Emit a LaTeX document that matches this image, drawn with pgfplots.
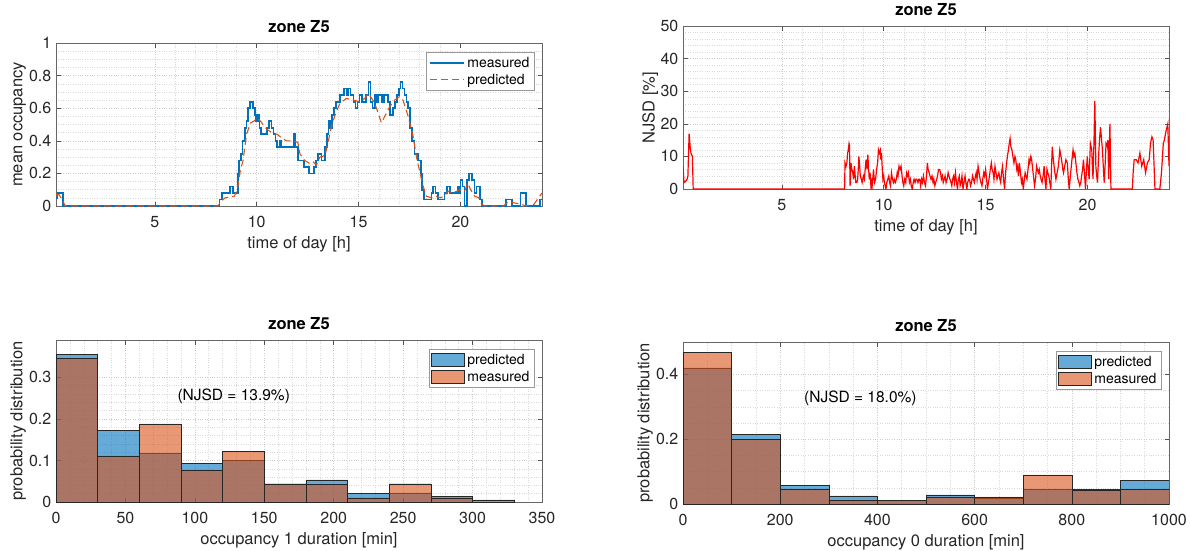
\documentclass[border=0pt]{standalone}
\usepackage{fontspec}
\setmainfont{TeX Gyre Heros}
\usepackage{pgfplots}
\pgfplotsset{compat=1.18}

\definecolor{mblue}{RGB}{0,114,189}
\definecolor{morange}{RGB}{217,83,25}
\definecolor{axgray}{RGB}{38,38,38}
\definecolor{gridmajor}{RGB}{204,204,204}
\definecolor{gridminor}{RGB}{218,218,218}

\pgfplotsset{
  matlab/.style={
    scale only axis,
    axis line style={axgray!70, line width=0.6pt},
    tick style={axgray!80, line width=0.5pt},
    tick align=inside,
    major tick length=4.5pt,
    minor tick length=0pt,
    grid=both,
    major grid style={gridmajor, dotted, line width=0.5pt},
    minor grid style={gridminor, dotted, line width=0.5pt},
    tick label style={font=\fontsize{16}{18}\selectfont, text=axgray},
    /pgf/number format/assume math mode=true,
    /pgf/number format/1000 sep={},
    label style={font=\fontsize{16.5}{19}\selectfont, text=axgray},
    title style={font=\bfseries\fontsize{16.5}{19}\selectfont, text=black,
      at={(axis description cs:0.5,1.03)}, anchor=base},
    xlabel style={at={(axis description cs:0.5,-0.26)}, anchor=base},
    ylabel style={anchor=base},
    xticklabel style={anchor=base, yshift=-21pt},
    yticklabel style={anchor=east, inner sep=0pt, xshift=-4.5pt},
    legend style={at={(axis description cs:0.985,0.945)}, anchor=north east,
      draw=gray!80, fill=white, line width=0.5pt,
      font=\fontsize{14}{16.5}\selectfont, text=black,
      inner xsep=2.5pt, inner ysep=2.5pt, row sep=0pt,
      nodes={inner sep=2.5pt}},
    legend cell align=left,
  },
  histbar/.style={ybar interval, fill=#1, fill opacity=0.6,
    draw=black!85, line width=0.45pt,
    legend image code/.code={\draw[fill=#1, fill opacity=0.6, draw=black!85, line width=0.45pt] (0pt,-6.5pt) rectangle (33pt,6.5pt);}},
}

\begin{document}
\begin{tikzpicture}
\useasboundingbox (0pt,0pt) rectangle (1190pt,550pt);

% ---------------- mean occupancy over the day ----------------
\begin{axis}[matlab, at={(56pt,344pt)}, anchor=south west,
  width=486pt, height=163pt,
  xmin=0.15, xmax=24, ymin=0, ymax=1,
  xtick={5,10,15,20}, ytick={0,0.2,0.4,0.6,0.8,1},
  minor x tick num=4, minor y tick num=3,
  title={zone Z5}, xlabel={time of day [h]}, ylabel={mean occupancy},
  ylabel style={at={(axis description cs:-0.069,0.5)}},
]
\addplot[const plot, color=mblue, line width=1.7pt,
  legend image code/.code={\draw[mblue, line width=1.7pt] (0pt,0pt) -- (34pt,0pt);}] coordinates {
(0.15,0.05) (0.22,0.08) (0.50,0.0) (8.18,0.04) (8.30,0.08) (8.70,0.12) (8.85,0.08)
(9.08,0.20) (9.14,0.28) (9.22,0.32) (9.30,0.40) (9.42,0.48) (9.50,0.52) (9.56,0.60)
(9.66,0.64) (9.82,0.60) (9.90,0.56) (9.98,0.52) (10.05,0.56) (10.14,0.48) (10.22,0.44)
(10.50,0.48) (10.60,0.52) (10.72,0.48) (10.82,0.44) (10.92,0.40) (11.00,0.36) (11.12,0.40)
(11.20,0.36) (11.80,0.44) (11.88,0.36) (12.02,0.28) (12.32,0.24) (12.55,0.20) (12.82,0.24)
(12.92,0.28) (13.00,0.32) (13.18,0.28) (13.35,0.36) (13.45,0.44) (13.52,0.52) (13.60,0.48)
(13.68,0.56) (13.78,0.60) (13.90,0.64) (14.10,0.68) (14.30,0.72) (14.40,0.68) (14.48,0.72)
(14.60,0.68) (14.75,0.64) (14.85,0.60) (14.95,0.64) (15.05,0.68) (15.18,0.64) (15.35,0.68)
(15.48,0.76) (15.58,0.64) (15.68,0.60) (15.80,0.68) (15.90,0.64) (15.98,0.68) (16.15,0.64)
(16.25,0.68) (16.45,0.64) (16.55,0.56) (16.68,0.60) (16.78,0.64) (16.88,0.68) (16.98,0.72)
(17.06,0.76) (17.15,0.72) (17.25,0.68) (17.35,0.64) (17.42,0.60) (17.52,0.48) (17.62,0.40)
(17.75,0.32) (17.92,0.28) (18.05,0.20) (18.12,0.10) (18.22,0.04) (18.58,0.08) (18.65,0.12)
(18.78,0.08) (18.90,0.04) (19.22,0.08) (19.35,0.12) (19.48,0.08) (19.85,0.12) (19.92,0.08)
(20.00,0.16) (20.10,0.12) (20.20,0.00) (20.32,0.16) (20.42,0.20) (20.58,0.16) (20.68,0.08)
(20.78,0.12) (20.95,0.04) (21.05,0.00) (22.22,0.04) (22.52,0.00) (22.95,0.08) (23.22,0.00)
(23.90,0.04) (24.00,0.04)
};
\addlegendentry{measured}
\addplot[color=morange, line width=1.1pt, dash pattern=on 7pt off 4pt,
  legend image code/.code={\draw[morange, line width=1.1pt, dash pattern=on 7pt off 4pt] (0pt,0pt) -- (34pt,0pt);}] coordinates {
(0.15,0.07) (0.30,0.07) (0.45,0.04) (0.60,0.0) (8.10,0.0) (8.25,0.03) (8.45,0.05)
(8.90,0.06) (9.05,0.10) (9.20,0.22) (9.33,0.28) (9.50,0.44) (9.70,0.51) (9.85,0.52)
(10.05,0.54) (10.25,0.51) (10.50,0.47) (10.75,0.45) (11.00,0.44) (11.20,0.42) (11.45,0.40)
(11.80,0.40) (12.02,0.39) (12.12,0.32) (12.35,0.28) (12.60,0.26) (12.78,0.27) (12.93,0.25)
(13.10,0.30) (13.35,0.31) (13.50,0.39) (13.67,0.49) (13.85,0.56) (14.08,0.63) (14.40,0.66)
(14.73,0.65) (15.05,0.64) (15.30,0.66) (15.48,0.69) (15.70,0.65) (15.88,0.60) (16.12,0.51)
(16.28,0.55) (16.53,0.61) (16.77,0.65) (17.00,0.67) (17.18,0.65) (17.43,0.55) (17.67,0.43)
(17.84,0.30) (18.00,0.21) (18.17,0.12) (18.33,0.06) (18.60,0.05) (18.80,0.06) (19.00,0.05)
(19.20,0.06) (19.40,0.09) (19.60,0.08) (19.80,0.09) (20.00,0.10) (20.20,0.09) (20.35,0.14)
(20.50,0.10) (20.70,0.06) (20.90,0.05) (21.05,0.01) (21.20,0.0) (22.10,0.0) (22.30,0.02)
(22.60,0.02) (23.00,0.01) (23.20,0.0) (23.60,0.01) (24.00,0.08)
};
\addlegendentry{predicted}
\end{axis}

% ---------------- NJSD over the day ----------------
\begin{axis}[matlab, at={(683pt,361pt)}, anchor=south west,
  width=486pt, height=163pt,
  xmin=0.15, xmax=24, ymin=0, ymax=50,
  xtick={5,10,15,20}, ytick={0,10,20,30,40,50},
  minor x tick num=4, minor y tick num=4,
  title={zone Z5}, xlabel={time of day [h]}, ylabel={NJSD [\%]},
  ylabel style={at={(axis description cs:-0.0586,0.5)}},
]
\addplot[color=red, line width=1.2pt] coordinates {
(0.15,7) (0.20,2) (0.30,2.5) (0.35,3) (0.39,4) (0.45,17) (0.50,13) (0.54,11) (0.61,10)
(0.65,0) (8.08,0) (8.10,8) (8.15,7) (8.19,8) (8.23,11) (8.26,12) (8.30,14) (8.32,13.5)
(8.35,1) (8.37,4) (8.39,8) (8.44,6) (8.48,5) (8.52,3) (8.56,7) (8.60,4) (8.63,2) (8.68,2)
(8.72,3) (8.75,6) (8.78,10) (8.82,7) (8.85,4) (8.90,3) (8.94,2) (9.00,4) (9.05,3) (9.09,6)
(9.13,9) (9.18,6) (9.22,10.5) (9.26,6) (9.29,3) (9.33,5) (9.37,1) (9.40,2) (9.42,0) (9.46,3)
(9.50,6) (9.52,4) (9.55,2) (9.60,3) (9.65,6) (9.70,8) (9.74,12) (9.78,11) (9.83,12) (9.86,9)
(9.89,11) (9.93,6) (9.96,3) (10.00,4) (10.03,2) (10.07,1) (10.11,0) (10.15,2) (10.20,3)
(10.25,4) (10.29,2) (10.33,1) (10.38,5) (10.43,3) (10.48,2) (10.52,3) (10.57,2) (10.62,3)
(10.66,5) (10.70,4) (10.75,7) (10.80,6) (10.85,7) (10.90,4) (10.94,2) (10.98,1) (11.03,3)
(11.08,2) (11.12,5) (11.17,4) (11.21,5) (11.26,2) (11.31,3) (11.35,1) (11.40,0) (11.45,2)
(11.49,3) (11.54,2) (11.58,3) (11.63,3) (11.68,2) (11.72,3) (11.77,3) (11.81,1) (11.86,3)
(11.90,2) (11.95,4) (12.00,2) (12.05,1) (12.10,4) (12.14,8) (12.18,6) (12.23,5) (12.27,4)
(12.32,3) (12.37,4) (12.42,2) (12.46,3) (12.51,1) (12.55,2) (12.60,3) (12.64,4) (12.69,6)
(12.74,6) (12.79,5) (12.83,3) (12.88,4) (12.92,2) (12.97,3) (13.01,4) (13.06,2) (13.11,3)
(13.16,5) (13.20,4) (13.25,3) (13.30,2) (13.34,1) (13.38,3) (13.43,4) (13.47,2) (13.52,5)
(13.57,2) (13.62,0) (13.66,3) (13.71,4) (13.75,1) (13.80,2) (13.84,4) (13.89,0) (13.94,2)
(13.99,4) (14.03,2) (14.08,0) (14.12,2) (14.17,3) (14.21,3) (14.26,1) (14.31,2) (14.36,4)
(14.40,3) (14.45,2) (14.50,4) (14.54,5) (14.58,3) (14.63,7) (14.68,5) (14.73,3) (14.77,2)
(14.82,1) (14.86,3) (14.91,5) (14.95,4) (15.00,6) (15.05,3) (15.09,0) (15.14,2) (15.19,4)
(15.23,6) (15.28,8) (15.32,6) (15.37,5) (15.41,3) (15.46,7) (15.51,5) (15.56,3) (15.60,4)
(15.65,5) (15.70,3) (15.74,2) (15.78,5) (15.83,7) (15.88,3) (15.93,0) (15.98,5) (16.03,8)
(16.07,10) (16.12,12) (16.16,14) (16.20,15.5) (16.24,13) (16.29,12) (16.34,10) (16.39,8)
(16.44,10) (16.48,9) (16.53,6) (16.57,7) (16.61,4) (16.66,8) (16.71,5) (16.76,2) (16.80,3)
(16.85,0) (16.90,3) (16.94,5) (16.98,4) (17.03,3) (17.08,6) (17.13,9) (17.17,8) (17.22,10)
(17.26,9) (17.31,6) (17.35,4) (17.40,1) (17.45,3) (17.50,7) (17.54,6) (17.59,5) (17.63,6)
(17.68,4) (17.72,3) (17.77,2) (17.82,4) (17.87,7) (17.91,3) (17.96,0) (18.01,6) (18.05,5)
(18.10,4) (18.15,2) (18.20,0) (18.27,13) (18.31,10) (18.36,7) (18.40,5) (18.45,3) (18.51,5)
(18.57,7) (18.64,12) (18.70,10) (18.75,8) (18.79,6) (18.82,5) (18.88,7) (18.94,9) (19.01,8)
(19.05,4) (19.10,0) (19.16,4) (19.22,8) (19.29,12) (19.33,10) (19.38,11) (19.43,8) (19.48,5)
(19.53,3) (19.58,2) (19.62,1) (19.67,2) (19.71,4) (19.76,6) (19.80,9) (19.85,5) (19.90,0)
(19.95,6) (19.99,10) (20.04,6) (20.08,3) (20.14,14) (20.21,12) (20.24,7) (20.27,3) (20.32,15)
(20.36,27) (20.41,7) (20.45,4) (20.49,2) (20.53,8) (20.56,12) (20.60,16) (20.64,19) (20.69,15)
(20.72,13) (20.75,10) (20.79,5) (20.82,2) (20.87,8) (20.91,14) (20.97,13) (21.00,15) (21.04,3)
(21.07,12) (21.10,20) (21.15,0) (22.20,0) (22.24,5) (22.29,9) (22.39,9) (22.48,8) (22.57,11)
(22.66,7) (22.76,9) (22.85,5) (22.94,8) (23.03,9) (23.09,14) (23.16,16) (23.22,15) (23.31,0)
(23.55,0) (23.63,5) (23.68,10) (23.72,14) (23.77,15) (23.86,18) (23.94,20) (24.00,7)
};
\end{axis}

% ---------------- occupancy 1 duration histogram ----------------
\begin{axis}[matlab, at={(56pt,48pt)}, anchor=south west,
  width=486pt, height=162pt,
  xmin=0, xmax=350, ymin=0, ymax=0.39,
  xtick={0,50,100,150,200,250,300,350}, ytick={0,0.1,0.2,0.3},
  minor x tick num=4, minor y tick num=4,
  title={zone Z5}, xlabel={occupancy 1 duration [min]},
  ylabel={probability distribution},
  ylabel style={at={(axis description cs:-0.069,0.5)}},
]
\addplot[histbar=mblue] coordinates {
(0,0.355) (30,0.172) (60,0.117) (90,0.093) (120,0.101) (150,0.044) (180,0.053)
(210,0.021) (240,0.022) (270,0.013) (300,0.005) (330,0.005)
};
\addlegendentry{predicted}
\addplot[histbar=morange] coordinates {
(0,0.345) (30,0.111) (60,0.188) (90,0.077) (120,0.122) (150,0.043) (180,0.043)
(210,0.010) (240,0.044) (270,0.010) (300,0.010)
};
\addlegendentry{measured}
\node[font=\fontsize{15.5}{18}\selectfont, text=black] at (axis cs:128,0.254) {(NJSD = 13.9\%)};
\end{axis}

% ---------------- occupancy 0 duration histogram ----------------
\begin{axis}[matlab, at={(683pt,46pt)}, anchor=south west,
  width=486pt, height=162pt,
  xmin=0, xmax=1000, ymin=0, ymax=0.5,
  xtick={0,200,400,600,800,1000}, ytick={0,0.2,0.4},
  minor x tick num=3, minor y tick num=3,
  title={zone Z5}, xlabel={occupancy 0 duration [min]},
  ylabel={probability distribution},
  ylabel style={at={(axis description cs:-0.069,0.5)}},
]
\addplot[histbar=mblue] coordinates {
(0,0.420) (100,0.216) (200,0.057) (300,0.025) (400,0.012) (500,0.028) (600,0.019)
(700,0.046) (800,0.045) (900,0.072) (1000,0.072)
};
\addlegendentry{predicted}
\addplot[histbar=morange] coordinates {
(0,0.467) (100,0.200) (200,0.046) (300,0.012) (400,0.012) (500,0.022) (600,0.022)
(700,0.090) (800,0.044) (900,0.046) (1000,0.046)
};
\addlegendentry{measured}
\node[font=\fontsize{15.5}{18}\selectfont, text=black] at (axis cs:365,0.327) {(NJSD = 18.0\%)};
\end{axis}
\end{tikzpicture}
\end{document}
